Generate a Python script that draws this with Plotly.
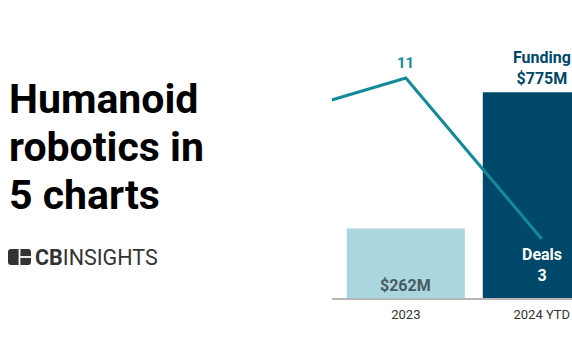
import plotly.graph_objects as go

# Data
years = ["2022", "2023", "2024 YTD"]
funding = [None, 262, 775]          # $M
deals = [9, 11, 3]
funding_labels = ["", "$262M", "Funding<br>$775M"]

W, H = 572, 364
L, R, T, B = 332, 0, 0, 66
PW, PH = W - L - R, H - T - B

def px(x):
    return (x - L) / PW

def py(y):
    return (H - B - y) / PH

LIGHT = "#a9d6df"
DARK = "#00486a"
TEAL = "#13899a"

fig = go.Figure()
fig.add_trace(go.Bar(
    x=years, y=funding,
    marker=dict(color=[LIGHT, LIGHT, DARK], line=dict(width=0)),
    hoverinfo="skip", showlegend=False,
))
fig.add_trace(go.Scatter(
    x=years, y=deals, yaxis="y2", mode="lines",
    line=dict(color=TEAL, width=3), hoverinfo="skip", showlegend=False,
))

fig.update_layout(
    width=W, height=H,
    margin=dict(l=L, r=R, t=T, b=B, pad=0),
    paper_bgcolor="white", plot_bgcolor="white",
    bargap=0.132,
    font=dict(family="Roboto", color="#333333"),
    xaxis=dict(
        type="category", range=[0.457, 2.222],
        showgrid=False, zeroline=False,
        showline=True, linecolor="#b5b5b5", linewidth=1.5,
        ticks="outside", ticklen=4, tickcolor="rgba(0,0,0,0)",
        tickfont=dict(size=13, color="#333333", family="Roboto"),
    ),
    yaxis=dict(range=[0, 1123], visible=False, showgrid=False, zeroline=False),
    yaxis2=dict(range=[0.07, 14.88], overlaying="y", visible=False,
                showgrid=False, zeroline=False),
)

ann = []
# Title lines
for text, yc in [("Humanoid", 99), ("robotics in", 147), ("5 charts", 195)]:
    ann.append(dict(text="<b>%s</b>" % text, x=px(6.5), y=py(yc), xref="paper", yref="paper",
                    xanchor="left", yanchor="middle", showarrow=False,
                    font=dict(size=41, color="#000000", family="Roboto")))
# Logo text
ann.append(dict(text="<b>CB</b>INSIGHTS", x=px(33), y=py(257.5), xref="paper", yref="paper",
                xanchor="left", yanchor="middle", showarrow=False,
                font=dict(size=21.5, color="#333333", family="Roboto")))
# Data labels
ann.append(dict(text="<b>" + str(deals[1]) + "</b>", x=1, y=deals[1], xref="x", yref="y2",
                xanchor="center", yanchor="bottom", yshift=4, showarrow=False,
                font=dict(size=15, color=TEAL, family="Roboto")))
ann.append(dict(text="<b>%s</b>" % funding_labels[2], x=2, y=py(68), xref="x", yref="paper",
                xanchor="center", yanchor="middle", showarrow=False,
                font=dict(size=16, color=DARK, family="Roboto")))
ann.append(dict(text="<b>%s</b>" % funding_labels[1], x=1, y=py(285.5), xref="x", yref="paper",
                xanchor="center", yanchor="middle", showarrow=False,
                font=dict(size=16, color="#4a5a62", family="Roboto")))
ann.append(dict(text="<b>Deals<br>%d</b>" % deals[2], x=2, y=py(265), xref="x", yref="paper",
                xanchor="center", yanchor="middle", showarrow=False,
                font=dict(size=16, color="#ffffff", family="Roboto")))
fig.update_layout(annotations=ann)

# Logo icon
x0, x1, y0, y1, r = 8, 31, 249, 265, 3
path = ("M {a},{b} L {c},{b} Q {d},{b} {d},{e} L {d},{f} Q {d},{g} {c},{g} "
        "L {a},{g} Q {h},{g} {h},{f} L {h},{e} Q {h},{b} {a},{b} Z").format(
    a=px(x0 + r), b=py(y0), c=px(x1 - r), d=px(x1), e=py(y0 + r), f=py(y1 - r),
    g=py(y1), h=px(x0))
shapes = [
    dict(type="path", path=path, xref="paper", yref="paper",
         fillcolor="#333333", line=dict(width=0)),
    dict(type="line", x0=px(19.5), x1=px(19.5), y0=py(y0 - 1), y1=py(y1 + 1),
         xref="paper", yref="paper", line=dict(color="white", width=1.8)),
    dict(type="line", x0=px(19.5), x1=px(x1 + 1), y0=py(257), y1=py(257),
         xref="paper", yref="paper", line=dict(color="white", width=1.8)),
]
fig.update_layout(shapes=shapes)

fig.write_html("out.html", config={"displayModeBar": False},
               post_script="document.body.style.margin='0';document.body.style.overflow='hidden';")
